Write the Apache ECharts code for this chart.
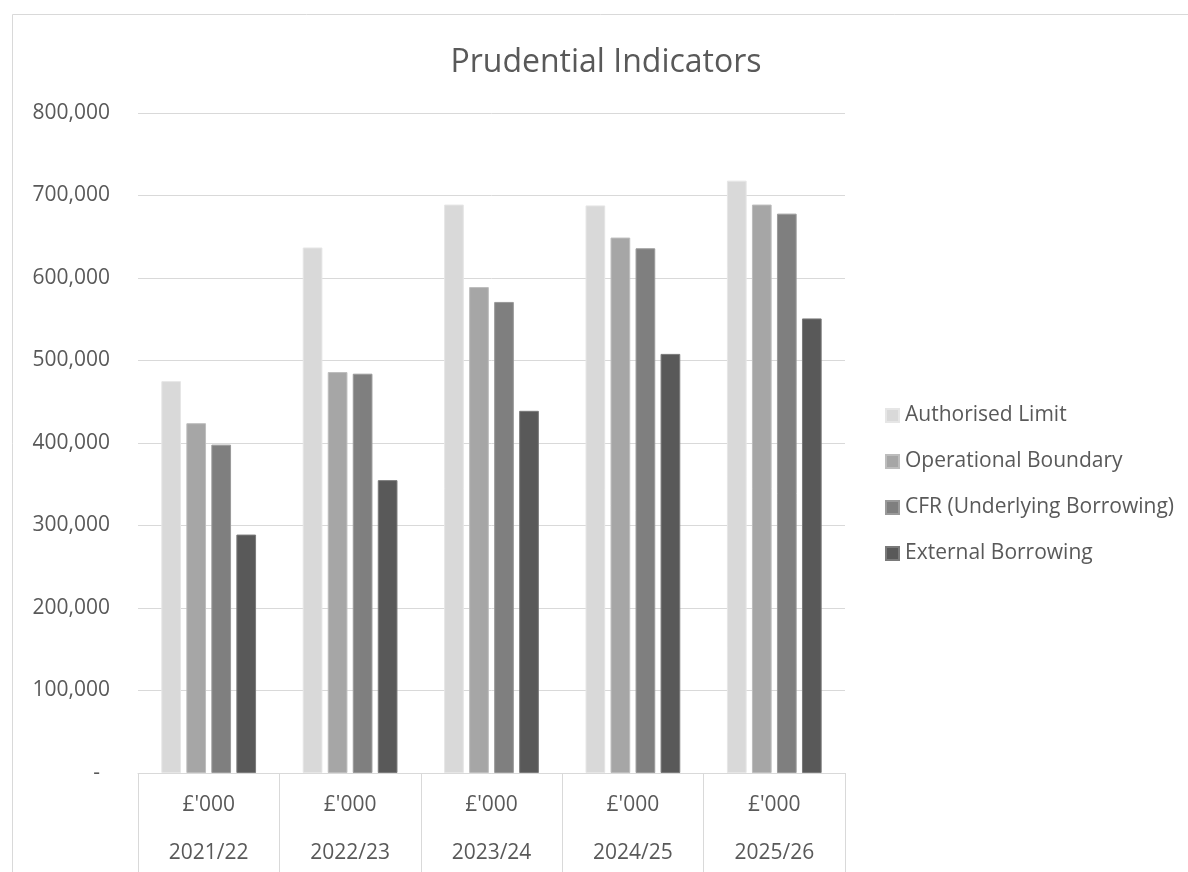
<!DOCTYPE html>
<html>
<head>
<meta charset="utf-8">
<script src="https://cdn.jsdelivr.net/npm/echarts@6/dist/echarts.min.js"></script>
<style>html,body{margin:0;padding:0;background:#fff}#c{width:1188px;height:872px}</style>
</head>
<body>
<div id="c"></div>
<script>
const years = ["2021/22", "2022/23", "2023/24", "2024/25", "2025/26"];
const unitLabel = "£'000";
const seriesNames = ["Authorised Limit", "Operational Boundary", "CFR (Underlying Borrowing)", "External Borrowing"];
const authorisedLimit = [475000, 637000, 689000, 688000, 718000];
const operationalBoundary = [424000, 486000, 589000, 649000, 689000];
const cfr = [398000, 484000, 571000, 636000, 678000];
const externalBorrowing = [289000, 355000, 439000, 508000, 551000];
const yTicks = [0, 100000, 200000, 300000, 400000, 500000, 600000, 700000, 800000];

const colors = ["#d9d9d9", "#a6a6a6", "#7f7f7f", "#595959"];
const borders = ["#e6e6e6", "#bdbdbd", "#9a9a9a", "#7a7a7a"];
const font = "'Open Sans', 'Noto Sans', sans-serif";
const chart = echarts.init(document.getElementById('c'));
const values = [authorisedLimit, operationalBoundary, cfr, externalBorrowing];

chart.setOption({
  animation: false,
  color: colors,
  graphic: [{
    type: 'rect', left: 10, top: 12, silent: true,
    shape: { width: 1190, height: 900 },
    style: { fill: 'none', stroke: '#d9d9d9', lineWidth: 1 }
  }],
  title: {
    text: 'Prudential Indicators', left: 601, top: 42, textAlign: 'center',
    textStyle: { fontFamily: font, fontSize: 32, fontWeight: 'normal', color: '#595959' }
  },
  legend: {
    orient: 'vertical', left: 885, top: 405, padding: 0, itemWidth: 13, itemHeight: 13, itemGap: 25,
    icon: 'rect',
    textStyle: { fontFamily: font, fontSize: 21, color: '#595959', padding: [0, 0, 0, 1] },
    data: seriesNames
  },
  grid: { left: 138, right: 343, top: 113, bottom: 99, outerBoundsMode: 'none' },
  xAxis: {
    type: 'category', data: years,
    axisLine: { show: true, lineStyle: { color: '#d9d9d9' } },
    axisTick: { show: true, length: 110, lineStyle: { color: '#d9d9d9' } },
    axisLabel: {
      margin: 8,
      formatter: function (v) { return '{a|' + unitLabel + '}\n{b|' + v + '}'; },
      rich: {
        a: { fontFamily: font, fontSize: 21, color: '#595959', lineHeight: 48, height: 48 },
        b: { fontFamily: font, fontSize: 21, color: '#595959', lineHeight: 48, height: 48 }
      }
    }
  },
  yAxis: {
    type: 'value', min: 0, max: 800000, interval: 100000,
    axisLine: { show: false }, axisTick: { show: false },
    splitLine: { lineStyle: { color: '#d9d9d9', width: 1 } },
    axisLabel: {
      margin: 28, fontFamily: font, fontSize: 21, color: '#595959',
      formatter: function (v) { return v === 0 ? '{d|-}' : v.toLocaleString('en-GB'); },
      rich: { d: { fontFamily: font, fontSize: 21, color: '#595959', padding: [0, 10, 0, 0] } }
    }
  },
  series: seriesNames.map((n, i) => ({
    name: n, type: 'bar', data: values[i],
    barGap: '27%', barCategoryGap: '33%',
    itemStyle: { color: colors[i], borderColor: borders[i], borderWidth: 1 }
  }))
});
</script>
</body>
</html>
